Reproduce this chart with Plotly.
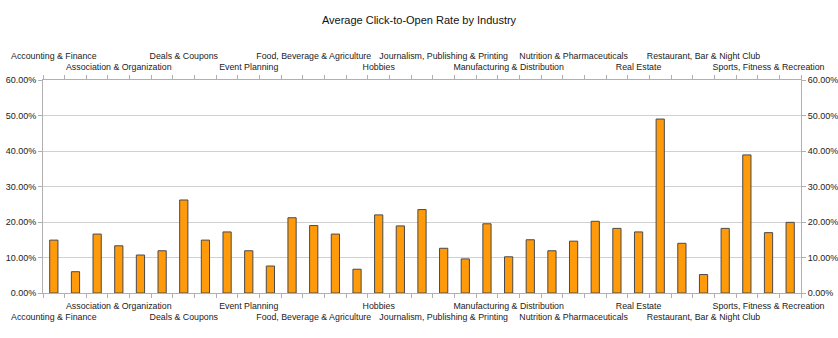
import plotly.graph_objects as go

industries = [
    "Accounting & Finance", "Agriculture", "Arts & Culture",
    "Association & Organization", "Automotive", "Consulting",
    "Deals & Coupons", "Education", "Entertainment",
    "Event Planning", "Fashion", "Fitness",
    "Food, Beverage & Agriculture", "Health & Wellness", "Health Care",
    "Hobbies", "Home & Garden", "Insurance",
    "Journalism, Publishing & Printing", "Legal", "Logistics",
    "Manufacturing & Distribution", "Marketing & Advertising", "Non-Profit",
    "Nutrition & Pharmaceuticals", "Photography", "Politics",
    "Real Estate", "Recruiting & Staffing", "Religious",
    "Restaurant, Bar & Night Club", "Retail", "Software & Technology",
    "Sports, Fitness & Recreation", "Travel & Tourism",
]
ctor = [
    0.149, 0.060, 0.166, 0.133, 0.107, 0.119, 0.262, 0.149, 0.172,
    0.119, 0.076, 0.212, 0.190, 0.166, 0.067, 0.220, 0.189, 0.235,
    0.126, 0.096, 0.195, 0.102, 0.150, 0.119, 0.146, 0.202, 0.182,
    0.172, 0.490, 0.140, 0.052, 0.182, 0.389, 0.170, 0.199,
]
label_step = 3

idx = list(range(len(industries)))
label_pos = idx[::label_step]
label_names = [industries[i] for i in label_pos]
bottom_text = [("<br>" + n) if k % 2 == 0 else n for k, n in enumerate(label_names)]
top_text = [(n + "<br>\u00a0") if k % 2 == 0 else n for k, n in enumerate(label_names)]

font = "Liberation Sans, Arial, sans-serif"
grid = "#d0d0d0"
axline = "#b0b0b0"

fig = go.Figure()
fig.add_trace(go.Bar(
    x=idx, y=ctor, width=0.38,
    marker=dict(color="#FF9A0A", line=dict(color="#4a4a4a", width=1)),
    hovertext=industries, showlegend=False,
))
fig.add_trace(go.Scatter(
    x=idx, y=ctor, xaxis="x2", yaxis="y2", mode="markers",
    marker=dict(opacity=0), hoverinfo="skip", showlegend=False,
))

xcommon = dict(
    range=[-0.5, len(industries) - 0.5], tickmode="array",
    tickvals=label_pos, ticks="", showgrid=False, zeroline=False,
    showline=True, linecolor=axline, linewidth=1, tickangle=0,
    automargin=False,
    tickfont=dict(family=font, size=8.8, color="#222"),
    minor=dict(tick0=0.5, dtick=1, ticks="outside", ticklen=4,
               tickcolor=axline, showgrid=False),
)
ycommon = dict(
    range=[0, 0.6], dtick=0.1, tickformat=".2%", ticks="outside",
    ticklen=4, tickcolor=axline, showline=True, linecolor=axline,
    zeroline=False, automargin=False,
    tickfont=dict(family=font, size=9, color="#222"),
)

fig.update_layout(
    width=838, height=338,
    margin=dict(l=43, r=37, t=80, b=45),
    paper_bgcolor="white", plot_bgcolor="white",
    title=dict(text="Average Click-to-Open Rate by Industry", x=0.5,
               xanchor="center", y=0.94, yanchor="middle",
               font=dict(family=font, size=11, color="#111"),
               automargin=False),
    xaxis=dict(**xcommon, ticktext=bottom_text, side="bottom",
               ticklabelstandoff=4),
    xaxis2=dict(**xcommon, ticktext=top_text, side="top",
                overlaying="x", anchor="y", ticklabelstandoff=5),
    yaxis=dict(**ycommon, showgrid=True, gridcolor=grid, side="left"),
    yaxis2=dict(**ycommon, showgrid=False, side="right", overlaying="y",
                anchor="x"),
    bargap=0.6,
)

fig.write_html("out.html")
